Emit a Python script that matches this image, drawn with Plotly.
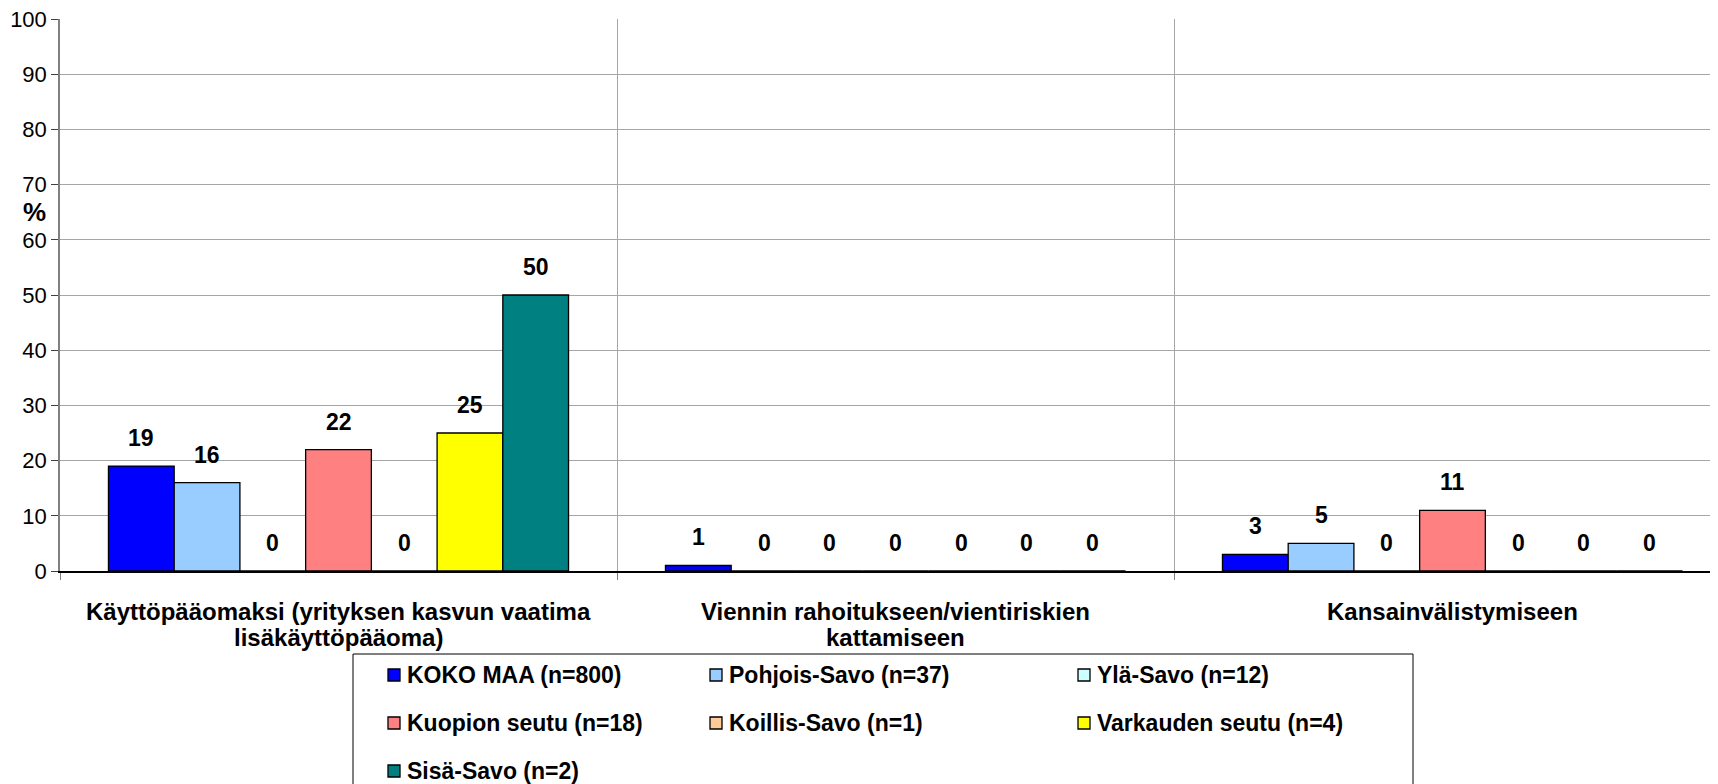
import plotly.graph_objects as go

# ---------------- data ----------------
categories = [
    "Käyttöpääomaksi (yrityksen kasvun vaatima<br>lisäkäyttöpääoma)",
    "Viennin rahoitukseen/vientiriskien<br>kattamiseen",
    "Kansainvälistymiseen",
]
series_names = [
    "KOKO MAA (n=800)",
    "Pohjois-Savo (n=37)",
    "Ylä-Savo (n=12)",
    "Kuopion seutu (n=18)",
    "Koillis-Savo (n=1)",
    "Varkauden seutu (n=4)",
    "Sisä-Savo (n=2)",
]
koko_maa = [19, 1, 3]
pohjois_savo = [16, 0, 5]
yla_savo = [0, 0, 0]
kuopion_seutu = [22, 0, 11]
koillis_savo = [0, 0, 0]
varkauden_seutu = [25, 0, 0]
sisa_savo = [50, 0, 0]
series_values = [koko_maa, pohjois_savo, yla_savo, kuopion_seutu,
                 koillis_savo, varkauden_seutu, sisa_savo]
colors = ["#0000FF", "#99CCFF", "#CCFFFF", "#FF8080", "#FFCC99", "#FFFF00", "#008080"]
y_ticks = list(range(0, 101, 10))

# ---------------- layout constants ----------------
OFF = 8                      # page body margin
W, H = 1718 - OFF, 784 - OFF
PLOT_LEFT, PLOT_TOP, PLOT_BOTTOM = 60, 19, 571   # in screen pixels
ML = PLOT_LEFT - OFF
MT = PLOT_TOP - OFF
MB = (784 - OFF) - (PLOT_BOTTOM - OFF)
MR = 0
PLOT_W = W - ML - MR
PLOT_H = H - MT - MB
CAT_PX = 557
X_MIN = -0.5
X_MAX = X_MIN + PLOT_W / CAT_PX
BARGAP = 0.174
FONT = "Arial, Liberation Sans, sans-serif"
bar_px = CAT_PX * (1 - BARGAP) / len(series_names)
CAT_LINE_Y = [611, 637]      # screen y of category label lines


def xp(px):
    """screen px -> paper x"""
    return (px - OFF - ML) / PLOT_W


def yp(py):
    """screen px -> paper y"""
    return (PLOT_BOTTOM - py) / PLOT_H


fig = go.Figure()
x_idx = list(range(len(categories)))
for name, vals, col in zip(series_names, series_values, colors):
    fig.add_trace(go.Bar(
        x=x_idx, y=vals, name=name, showlegend=False,
        marker=dict(color=col, line=dict(color="#000000", width=1.3)),
    ))

annotations = []
n = len(series_names)
for i, vals in enumerate(series_values):
    for c, v in enumerate(vals):
        annotations.append(dict(
            x=c, y=v, xref="x", yref="y", text=str(v), showarrow=False,
            xshift=(i - (n - 1) / 2) * bar_px, yshift=28,
            font=dict(family=FONT, size=23, color="#000000", weight="bold"),
        ))

# category labels (one annotation per line for exact line spacing)
for c, label in enumerate(categories):
    for li, line in enumerate(label.split("<br>")):
        annotations.append(dict(
            x=c, y=yp(CAT_LINE_Y[li]), xref="x", yref="paper", text=line,
            showarrow=False, xanchor="center", yanchor="middle",
            font=dict(family=FONT, size=24, color="#000000", weight="bold"),
        ))

# "%" axis title
annotations.append(dict(
    x=xp(34), y=yp(212), xref="paper", yref="paper", text="%", showarrow=False,
    xanchor="center", yanchor="middle",
    font=dict(family=FONT, size=26, color="#000000", weight="bold"),
))

# manual legend
shapes = [dict(type="rect", xref="paper", yref="paper",
               x0=xp(353), x1=xp(1413), y0=yp(800), y1=yp(654),
               line=dict(color="#000000", width=1), fillcolor="rgba(0,0,0,0)")]
col_marker_x = [388, 710, 1078]
row_y = [675, 723, 771]
for k, (name, col) in enumerate(zip(series_names, colors)):
    r, cidx = divmod(k, 3)
    mx = col_marker_x[cidx]
    my = row_y[r]
    shapes.append(dict(type="rect", xref="paper", yref="paper",
                       x0=xp(mx), x1=xp(mx + 12), y0=yp(my + 6), y1=yp(my - 6),
                       line=dict(color="#000000", width=1.3), fillcolor=col))
    annotations.append(dict(
        x=xp(mx + 17), y=yp(my), xref="paper", yref="paper", text=name,
        showarrow=False, xanchor="left", yanchor="middle",
        font=dict(family=FONT, size=23, color="#000000", weight="bold"),
    ))

fig.update_layout(
    width=W, height=H,
    margin=dict(l=ML, r=MR, t=MT, b=MB, pad=0),
    paper_bgcolor="#FFFFFF", plot_bgcolor="#FFFFFF",
    barmode="group", bargap=BARGAP, bargroupgap=0,
    showlegend=False,
    annotations=annotations, shapes=shapes,
    font=dict(family=FONT, size=20, color="#000000"),
)
fig.update_xaxes(
    range=[X_MIN, X_MAX], tickmode="array", tickvals=x_idx,
    showticklabels=False,
    ticks="", showgrid=False, zeroline=False,
    showline=True, linecolor="#000000", linewidth=1.5,
    minor=dict(tickmode="array", tickvals=[-0.5, 0.5, 1.5], ticks="outside",
               ticklen=7, tickcolor="#808080", showgrid=True,
               gridcolor="#A6A6A6", gridwidth=1),
)
fig.update_yaxes(
    range=[0, 100], tickmode="array", tickvals=y_ticks,
    ticks="outside", ticklen=7, tickcolor="#404040",
    showgrid=True, gridcolor="#A6A6A6", gridwidth=1, zeroline=False,
    showline=True, linecolor="#808080", linewidth=1.5,
    tickfont=dict(family=FONT, size=22, color="#000000"),
    ticklabeloverflow="allow",
)

fig.write_html("out.html")
